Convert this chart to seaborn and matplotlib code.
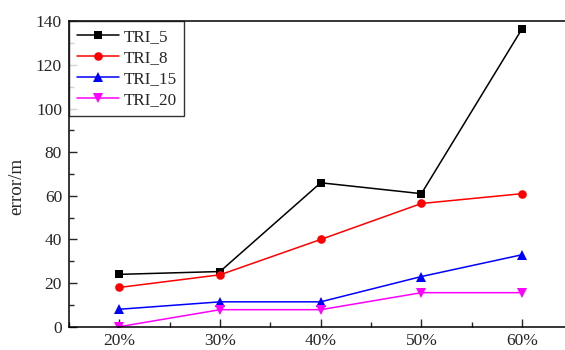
import matplotlib
matplotlib.use("Agg")
import matplotlib.pyplot as plt
from matplotlib.ticker import MultipleLocator, FuncFormatter
import pandas as pd
import seaborn as sns

# Share of missing data (%) and localisation error (m) per triangulation setting
ratios = [20, 30, 40, 50, 60]
tri_5 = [24, 25.3, 66, 61, 136.6]
tri_8 = [18, 23.8, 40, 56.5, 61]
tri_15 = [8, 11.4, 11.4, 23, 33]
tri_20 = [0, 7.8, 7.8, 15.6, 15.6]

series_names = ["TRI_5", "TRI_8", "TRI_15", "TRI_20"]
series_values = [tri_5, tri_8, tri_15, tri_20]
colors = ["#000000", "#ff0000", "#0000ff", "#ff00ff"]
markers = ["s", "o", "^", "v"]
marker_sizes = [5.4, 6.2, 7.2, 7.2]

df = pd.DataFrame(
    [(r, v, name) for name, vals in zip(series_names, series_values) for r, v in zip(ratios, vals)],
    columns=["ratio", "error", "series"],
)

sns.set_style("ticks")
plt.rcParams["font.family"] = ["Liberation Serif", "DejaVu Serif"]
plt.rcParams["xtick.direction"] = "in"
plt.rcParams["ytick.direction"] = "in"

fig = plt.figure(figsize=(5.65, 3.5), dpi=100)
ax = fig.add_axes([69 / 565, 23.3 / 350, 503.4 / 565, 305.3 / 350])

for name, color, mk, ms in zip(series_names, colors, markers, marker_sizes):
    sub = df[df["series"] == name]
    sns.lineplot(
        data=sub, x="ratio", y="error", ax=ax, color=color, marker=mk,
        markersize=ms, markeredgewidth=0, linewidth=1.1, label=name,
    )

ax.set_xlim(15, 65)
ax.set_ylim(0, 140)
ax.xaxis.set_major_locator(MultipleLocator(10))
ax.xaxis.set_minor_locator(MultipleLocator(5))
ax.yaxis.set_major_locator(MultipleLocator(20))
ax.yaxis.set_minor_locator(MultipleLocator(10))
ax.xaxis.set_major_formatter(FuncFormatter(lambda v, p: f"{int(round(v))}%"))
ax.tick_params(which="major", length=5.5, width=1, labelsize=12.5, pad=5)
ax.tick_params(which="minor", length=3.5, width=1)
ax.tick_params(axis="x", which="major", pad=4.5)
ax.tick_params(axis="x", which="both", top=False)
ax.tick_params(axis="y", which="both", right=False)
for sp in ax.spines.values():
    sp.set_linewidth(1.1)
    sp.set_color("black")

ax.set_xlabel("")
ax.set_ylabel("error/m", fontsize=13.7)
ax.yaxis.set_label_coords(-0.087, 0.46)

leg = ax.legend(
    loc="upper left", bbox_to_anchor=(0, 1), borderaxespad=0, fontsize=12.3,
    frameon=True, fancybox=False, edgecolor="black", handlelength=2.5,
    handletextpad=0.25, labelspacing=0.3, borderpad=0.45,
)
leg.get_frame().set_linewidth(1.0)

fig.savefig("out.png", dpi=100)
